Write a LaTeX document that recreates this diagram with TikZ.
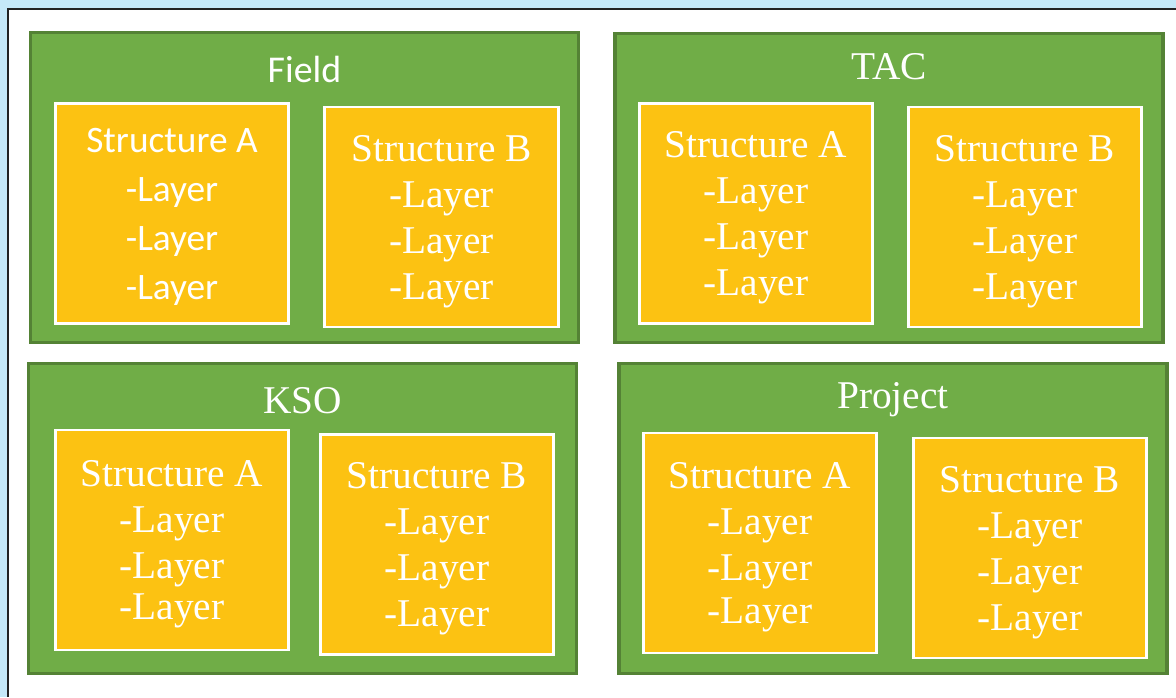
\documentclass[tikz,border=0pt]{standalone}
\usepackage{fontspec}
\usepackage{xcolor}
\usetikzlibrary{positioning, calc}
\setmainfont{Liberation Serif}
\newfontfamily\sansfont{Carlito}
\definecolor{bgblue}{RGB}{197,232,248}
\definecolor{framecolor}{RGB}{34,34,34}
\definecolor{panelgreen}{RGB}{112,173,71}
\definecolor{paneledge}{RGB}{84,130,53}
\definecolor{boxyellow}{RGB}{252,194,18}

\tikzset{
	panel/.style={draw=paneledge, fill=panelgreen, line width=2.4pt,
		minimum width=411pt, minimum height=232pt, inner sep=0pt},
	structbox/.style={draw=white, fill=boxyellow, line width=2.2pt,
		minimum width=175pt, minimum height=165pt, inner sep=0pt,
		align=center, text=white, text depth=0pt,
		font=\fontsize{29.5}{34.5}\selectfont},
	sansbox/.style={structbox, font=\sansfont\fontsize{28}{36.7}\selectfont},
	paneltitle/.style={text=white, font=\fontsize{29.5}{30}\selectfont, inner sep=0pt}
}

\begin{document}
\begin{tikzpicture}[x=0.75pt, y=-0.75pt]
\useasboundingbox (0,0) rectangle (1176,697);
\fill[bgblue] (0,0) rectangle (1176,697);
\fill[white] (8,9) rectangle (1176,697);
\draw[framecolor, line width=1.6pt] (8,697) -- (8,9) -- (1176,9);

% Panels
\node[panel] (field) at (304.5,187.5) {};
\node[panel] (tac) at (889,188) {};
\node[panel] (kso) at (302.5,518.5) {};
\node[panel] (project) at (893,518.5) {};

% Titles
\node[paneltitle, font=\sansfont\fontsize{28.4}{30}\selectfont] (field-title) at ($(field.north)+(0,38)$) {Field};
\node[paneltitle] (tac-title) at ($(tac.north)+(0,35)$) {TAC};
\node[paneltitle] (kso-title) at ($(kso.north)+(0,38)$) {KSO};
\node[paneltitle] (project-title) at ($(project.north)+(0,37)$) {Project};

% Structures
\node[sansbox] (field-a) at (172,213.5) {Structure A\\-Layer\\-Layer\\-Layer};
\node[structbox] (field-b) at (441.5,217) {Structure B\\-Layer\\-Layer\\-Layer};
\node[structbox] (tac-a) at (756,213.5) {Structure A\\-Layer\\-Layer\\-Layer};
\node[structbox] (tac-b) at (1025,217) {Structure B\\-Layer\\-Layer\\-Layer};
\node[structbox] (kso-a) at (172,540) {Structure A\\-Layer\\-Layer\\[-4pt]-Layer};
\node[structbox] (kso-b) at (437,544.5) {Structure B\\-Layer\\-Layer\\-Layer};
\node[structbox] (project-a) at (760,543) {Structure A\\-Layer\\-Layer\\[-2pt]-Layer};
\node[structbox] (project-b) at (1030,548) {Structure B\\-Layer\\-Layer\\-Layer};

\end{tikzpicture}
\end{document}
